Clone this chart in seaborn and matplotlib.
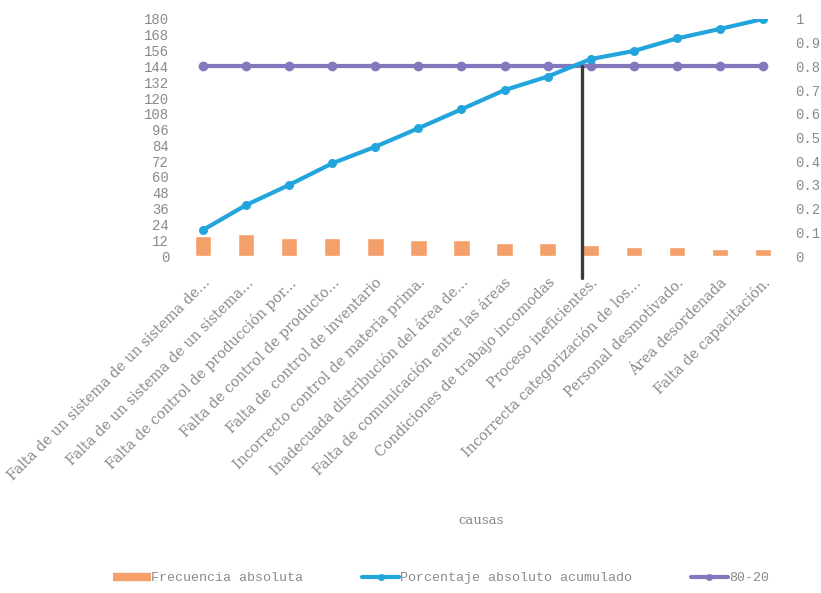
import numpy as np
import pandas as pd
import matplotlib
matplotlib.use("Agg")
import matplotlib.pyplot as plt
from matplotlib.lines import Line2D
import matplotlib.transforms as mtransforms
import seaborn as sns

causas = [
    "Falta de un sistema de un sistema de...",
    "Falta de un sistema de un sistema...",
    "Falta de control de producción por...",
    "Falta de control de producto...",
    "Falta de control de inventario",
    "Incorrecto control de materia prima.",
    "Inadecuada distribución del área de...",
    "Falta de comunicación entre las áreas",
    "Condiciones de trabajo incomodas",
    "Proceso ineficientes.",
    "Incorrecta categorización de los...",
    "Personal desmotivado.",
    "Área desordenada",
    "Falta de capacitación.",
]
frecuencia = [15, 17, 14, 14, 14, 12, 12, 10, 10, 8, 7, 7, 5, 5]
porcentaje_acumulado = [0.110, 0.215, 0.300, 0.391, 0.461, 0.539, 0.619,
                        0.700, 0.757, 0.831, 0.865, 0.918, 0.958, 1.0]
linea_80_20 = [0.8] * 14
corte_80_20 = 8.8

left_ticks = list(range(0, 181, 12))
right_ticks = [0, 0.1, 0.2, 0.3, 0.4, 0.5, 0.6, 0.7, 0.8, 0.9, 1]
right_labels = ["0", "0.1", "0.2", "0.3", "0.4", "0.5", "0.6", "0.7", "0.8", "0.9", "1"]

ORANGE = "#F5A06A"
BLUE = "#22A5DC"
PURPLE = "#8278BE"
GRAY = "#8a8a8a"
DARK = "#3c3c3c"

sns.set_theme(style="white")
plt.rcParams["font.family"] = ["DejaVu Sans"]

fig = plt.figure(figsize=(8.21, 5.93), dpi=100)
ax = fig.add_axes([181.5 / 821, (593 - 256) / 593, (784.5 - 181.5) / 821, 237 / 593])

df = pd.DataFrame({"causa": causas, "frecuencia": frecuencia,
                   "pos": np.arange(len(causas)),
                   "acum": porcentaje_acumulado, "ref": linea_80_20})

sns.barplot(data=df, x="causa", y="frecuencia", color=ORANGE, saturation=1,
            width=0.38, ax=ax)
ax.set_ylim(0, 180)
ax.set_yticks(left_ticks)
ax.set_yticklabels([str(t) for t in left_ticks], family="Liberation Mono",
                   fontsize=10, color=GRAY)
ax.set_xlim(-0.5, len(causas) - 0.5)
ax.set_xticks(range(len(causas)))
ax.set_xticklabels(causas, rotation=45, ha="right", va="top",
                   rotation_mode="anchor", family="DejaVu Serif",
                   fontsize=10.2, color=GRAY)
offset = mtransforms.ScaledTranslation(6 / 72, 2 / 72, fig.dpi_scale_trans)
for lbl in ax.get_xticklabels():
    lbl.set_transform(lbl.get_transform() + offset)
ax.tick_params(axis="x", length=0, pad=14)
ax.tick_params(axis="y", length=0, pad=9)
ax.set_xlabel("")
ax.set_ylabel("")
for s in ax.spines.values():
    s.set_visible(False)

ax2 = ax.twinx()
sns.lineplot(data=df, x="pos", y="ref", ax=ax2, color=PURPLE, linewidth=3,
             marker="o", markersize=7, markeredgewidth=0)
sns.lineplot(data=df, x="pos", y="acum", ax=ax2, color=BLUE, linewidth=3,
             marker="o", markersize=6.5, markeredgewidth=0)
ax2.set_ylim(0, 1)
ax2.set_yticks(right_ticks)
ax2.set_yticklabels(right_labels, family="Liberation Mono", fontsize=10, color=GRAY)
ax2.tick_params(axis="y", length=0, pad=8)
ax2.set_xlabel("")
ax2.set_ylabel("")
for s in ax2.spines.values():
    s.set_visible(False)
ax2.set_xlim(-0.5, len(causas) - 0.5)

# vertical 80-20 cut line
trans = mtransforms.blended_transform_factory(ax2.transData, ax2.transAxes)
ax2.plot([corte_80_20, corte_80_20], [0.8, -0.093], transform=trans,
         color=DARK, linewidth=2.4, clip_on=False, zorder=5)

fig.text(481 / 821, 1 - 521 / 593, "causas", family="DejaVu Serif",
         fontsize=9.5, color=GRAY, ha="center", va="center")

handles = [
    Line2D([], [], color=ORANGE, linewidth=6, solid_capstyle="butt"),
    Line2D([], [], color=BLUE, linewidth=3, marker="o", markersize=4),
    Line2D([], [], color=PURPLE, linewidth=3, marker="o", markersize=4),
]
labels = ["Frecuencia absoluta", "Porcentaje absoluto acumulado", "80-20"]
leg = fig.legend(handles, labels, loc="center", bbox_to_anchor=(441 / 821, 1 - 578 / 593),
                 ncol=3, frameon=False, handlelength=2.8, handletextpad=0.05,
                 columnspacing=4.4, prop={"family": "Liberation Mono", "size": 9.6})
for t in leg.get_texts():
    t.set_color(GRAY)

fig.savefig("out.png", dpi=100)
